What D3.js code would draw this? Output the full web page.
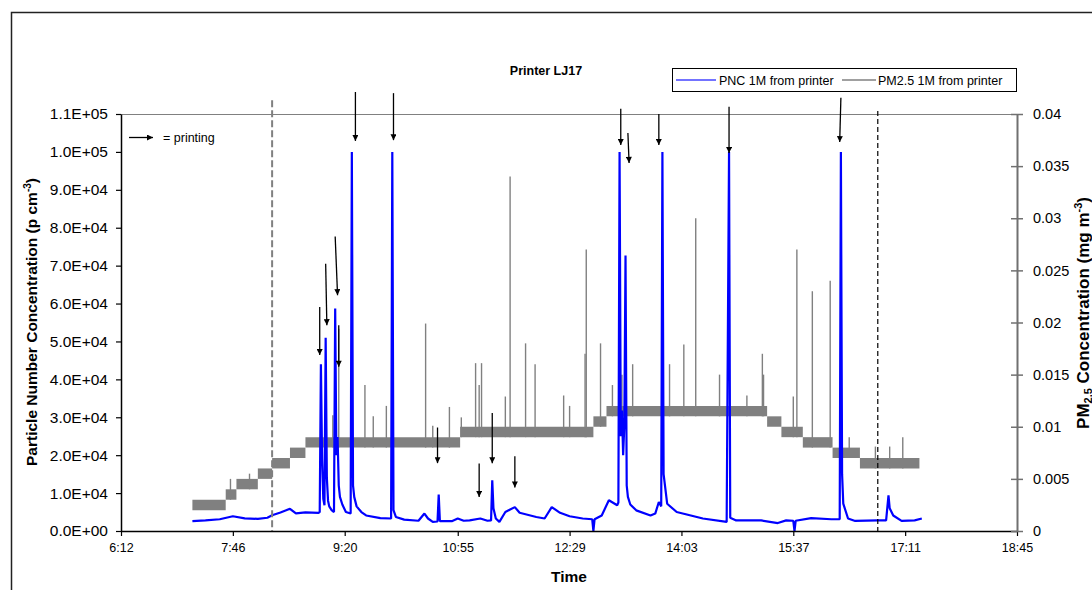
<!DOCTYPE html>
<html>
<head>
<meta charset="utf-8">
<script src="https://cdn.jsdelivr.net/npm/d3@7/dist/d3.min.js"></script>
<style>
  body { margin: 0; background: #fff; }
  svg { display: block; font-family: "Liberation Sans", Arial, sans-serif; }
</style>
</head>
<body>
<div id="chart"></div>
<script>
// axis ticks as Excel printed them
var timeTicks = ["6:12", "7:46", "9:20", "10:55", "12:29", "14:03", "15:37", "17:11", "18:45"];
var pncTicks = [0, 10000, 20000, 30000, 40000, 50000, 60000, 70000, 80000, 90000, 100000, 110000];
var pmTicks = [0, 0.005, 0.01, 0.015, 0.02, 0.025, 0.03, 0.035, 0.04];

// PNC 1M from printer (p cm-3)
var pncSeries = [
  ["7:12", 2600], ["7:23", 2800], ["7:35", 3100], ["7:46", 3900], ["7:56", 3350],
  ["8:07", 3200], ["8:15", 3500], ["8:19", 4150], ["8:26", 4900], ["8:34", 5850],
  ["8:39", 4650], ["8:47", 4900], ["8:58", 4800], ["8:59", 5000], ["9:00", 44000],
  ["9:01", 19000], ["9:02", 8500], ["9:03", 6800], ["9:04", 51000], ["9:05", 14000],
  ["9:06", 8000], ["9:07", 6500], ["9:09", 5500], ["9:11", 5000], ["9:12", 58700],
  ["9:13", 20000], ["9:14", 24800], ["9:15", 12000], ["9:16", 9000], ["9:18", 7000],
  ["9:21", 5000], ["9:25", 4600], ["9:26", 100000], ["9:27", 12000], ["9:28", 9000],
  ["9:30", 6500], ["9:34", 5000], ["9:38", 4100], ["9:50", 3400], ["9:59", 3300],
  ["10:00", 100000], ["10:01", 5500], ["10:03", 3700], ["10:10", 3000], ["10:22", 2700],
  ["10:27", 4600], ["10:30", 3300], ["10:34", 2400], ["10:38", 2500], ["10:39", 9600],
  ["10:40", 2600], ["10:50", 2600], ["10:55", 3300], ["11:00", 2700], ["11:05", 2800],
  ["11:14", 3300], ["11:20", 2700], ["11:23", 2800], ["11:24", 13400], ["11:25", 6000],
  ["11:27", 3300], ["11:30", 2400], ["11:35", 5000], ["11:39", 5650], ["11:43", 6300],
  ["11:47", 4800], ["12:01", 3700], ["12:08", 3300], ["12:14", 6300], ["12:21", 4800],
  ["12:29", 3900], ["12:40", 3300], ["12:48", 3100], ["12:49", 0], ["12:50", 3100],
  ["12:56", 4100], ["13:02", 8100], ["13:09", 6800], ["13:10", 7500], ["13:11", 100000],
  ["13:12", 25000], ["13:13", 31800], ["13:14", 20000], ["13:15", 28000], ["13:16", 72700],
  ["13:17", 12000], ["13:18", 9000], ["13:20", 7000], ["13:25", 5450], ["13:37", 4100],
  ["13:41", 4600], ["13:44", 7650], ["13:46", 6500], ["13:47", 100000], ["13:48", 15000],
  ["13:51", 7200], ["13:59", 5000], ["14:21", 3300], ["14:41", 2400], ["14:43", 100000],
  ["14:44", 3500], ["14:49", 2800], ["15:10", 2800], ["15:24", 2100], ["15:31", 2800],
  ["15:37", 2700], ["15:38", 0], ["15:39", 2700], ["15:52", 3400], ["16:09", 3100],
  ["16:16", 3100], ["16:17", 100000], ["16:18", 15000], ["16:19", 7200], ["16:23", 3300],
  ["16:29", 2650], ["16:48", 2800], ["16:55", 2800], ["16:57", 9400], ["16:58", 6000],
  ["17:01", 4100], ["17:08", 2650], ["17:19", 2800], ["17:25", 3300]
];

// PM2.5 1M from printer (mg m-3): the reading flickers between two levels -> [from, to, low, high]
var pmLevels = [
  ["7:12", "7:40", 0.002, 0.003],
  ["7:40", "7:49", 0.003, 0.004],
  ["7:49", "8:07", 0.004, 0.005],
  ["8:07", "8:19", 0.005, 0.006],
  ["8:19", "8:34", 0.006, 0.007],
  ["8:34", "8:47", 0.007, 0.008],
  ["8:47", "10:57", 0.008, 0.009],
  ["10:57", "12:49", 0.009, 0.010],
  ["12:49", "13:00", 0.010, 0.011],
  ["13:00", "15:15", 0.011, 0.012],
  ["15:15", "15:27", 0.010, 0.011],
  ["15:27", "15:45", 0.009, 0.010],
  ["15:45", "16:10", 0.008, 0.009],
  ["16:10", "16:33", 0.007, 0.008],
  ["16:33", "17:23", 0.006, 0.007]
];

// PM2.5 single minute peaks
var pmSpikes = [
  ["7:44", 0.005], ["8:00", 0.0055], ["9:10", 0.0111], ["9:12", 0.0142], ["9:15", 0.0194],
  ["9:37", 0.0140], ["9:44", 0.0110], ["9:55", 0.0120], ["10:28", 0.0199], ["10:34", 0.0101],
  ["10:48", 0.0119], ["10:58", 0.0109], ["11:10", 0.0161], ["11:13", 0.0140], ["11:15", 0.0161],
  ["11:35", 0.0129], ["11:39", 0.0340], ["11:52", 0.0180], ["12:00", 0.0160], ["12:24", 0.0130],
  ["12:29", 0.0120], ["12:42", 0.0170], ["12:43", 0.0270], ["12:55", 0.0180], ["13:05", 0.0140],
  ["13:13", 0.0150], ["13:22", 0.0160], ["13:53", 0.0160], ["14:05", 0.0179], ["14:15", 0.0300],
  ["14:35", 0.0150], ["14:58", 0.0130], ["15:11", 0.0170], ["15:12", 0.0150], ["15:37", 0.0129],
  ["15:40", 0.0270], ["15:53", 0.0230], ["16:08", 0.0240], ["16:24", 0.0090], ["16:46", 0.0081],
  ["16:58", 0.0081], ["17:09", 0.0090]
];

// "= printing" arrows: [time from, PNC from, time to, PNC to]
var printArrows = [
  ["8:59", 59100, "8:59", 46400], ["9:04", 70500, "9:05", 54300], ["9:12", 77700, "9:14", 62200],
  ["9:15", 54300, "9:15", 43300], ["9:29", 115800, "9:29", 102900], ["10:01", 115500, "10:01", 103100],
  ["10:38", 27300, "10:38", 17900], ["11:13", 17800, "11:13", 9000], ["11:24", 31100, "11:24", 17900],
  ["11:43", 19700, "11:43", 11500], ["13:12", 111400, "13:12", 101800], ["13:18", 105000, "13:19", 97100],
  ["13:44", 110000, "13:44", 101800], ["14:43", 111900, "14:43", 99700], ["16:17", 114300, "16:16", 102600]
];

// start / end of the test period: [time, top in PNC units]
var periodLines = [["8:19", 113600], ["16:48", 110800]];

var width = 1092;
var height = 590;
// plot area edges (don't call it "top": window.top is read only)
var plotLeft = 121, plotRight = 1017, plotTop = 114, plotBottom = 531;

function toMin(s) {
  var p = s.split(":");
  return +p[0] * 60 + +p[1];
}

// 1.0E+04 style labels like Excel
function sci(v) {
  if (v === 0) return "0.0E+00";
  var e = Math.floor(Math.log10(v));
  var m = v / Math.pow(10, e);
  return m.toFixed(1) + "E+" + (e < 10 ? "0" : "") + e;
}

var svg = d3.select("#chart").append("svg")
  .attr("width", width)
  .attr("height", height);

var x = d3.scaleLinear().domain([toMin(timeTicks[0]), toMin(timeTicks[timeTicks.length - 1])]).range([plotLeft, plotRight]);
var yL = d3.scaleLinear().domain([0, 110000]).range([plotBottom, plotTop]);
var yR = d3.scaleLinear().domain([0, 0.04]).range([plotBottom, plotTop]);

var defs = svg.append("defs");
defs.append("marker")
  .attr("id", "head")
  .attr("viewBox", "0 0 10 10")
  .attr("refX", 10).attr("refY", 5)
  .attr("markerWidth", 7).attr("markerHeight", 6)
  .attr("markerUnits", "userSpaceOnUse")
  .attr("orient", "auto")
  .append("path").attr("d", "M0,0L10,5L0,10z").attr("fill", "#000");

// chart frame
svg.append("rect")
  .attr("x", 11.5).attr("y", 12.5)
  .attr("width", 1100).attr("height", 600)
  .attr("fill", "none").attr("stroke", "#222").attr("stroke-width", 1.5);

// top border of plot area
svg.append("line")
  .attr("x1", plotLeft).attr("x2", plotRight).attr("y1", plotTop + 0.5).attr("y2", plotTop + 0.5)
  .attr("stroke", "#808080").attr("stroke-width", 1);

// PM2.5 band
var band = d3.area()
  .x(function(d) { return x(d[0]); })
  .y0(function(d) { return yR(d[1]); })
  .y1(function(d) { return yR(d[2]); });

svg.append("g").selectAll("path")
  .data(pmLevels)
  .enter().append("path")
  .attr("d", function(d) {
    return band([[toMin(d[0]), d[2], d[3]], [toMin(d[1]), d[2], d[3]]]);
  })
  .attr("fill", "#808080");

function levelAt(t) {
  for (var i = 0; i < pmLevels.length; i++) {
    if (t >= toMin(pmLevels[i][0]) && t <= toMin(pmLevels[i][1])) return pmLevels[i][2];
  }
  return 0;
}

svg.append("g").selectAll("line")
  .data(pmSpikes)
  .enter().append("line")
  .attr("x1", function(d) { return x(toMin(d[0])); })
  .attr("x2", function(d) { return x(toMin(d[0])); })
  .attr("y1", function(d) { return yR(levelAt(toMin(d[0]))); })
  .attr("y2", function(d) { return yR(d[1]); })
  .attr("stroke", "#808080").attr("stroke-width", 1.4);

// PNC line
var line = d3.line()
  .x(function(d) { return x(toMin(d[0])); })
  .y(function(d) { return yL(d[1]); });

svg.append("path")
  .datum(pncSeries)
  .attr("d", line)
  .attr("fill", "none")
  .attr("stroke", "#0000ff")
  .attr("stroke-width", 2.2)
  .attr("stroke-linejoin", "bevel");

// dashed period lines
svg.append("g").selectAll("line")
  .data(periodLines)
  .enter().append("line")
  .attr("x1", function(d) { return x(toMin(d[0])); })
  .attr("x2", function(d) { return x(toMin(d[0])); })
  .attr("y1", function(d) { return yL(d[1]); })
  .attr("y2", plotBottom)
  .attr("stroke", function(d, i) { return i == 0 ? "#808080" : "#000"; })
  .attr("stroke-width", function(d, i) { return i == 0 ? 2 : 1.2; })
  .attr("stroke-dasharray", function(d, i) { return i == 0 ? "7,3" : "5,3"; });

// axes
var xAxis = svg.append("g")
  .attr("transform", "translate(0," + plotBottom + ")")
  .call(d3.axisBottom(x)
    .tickValues(timeTicks.map(toMin))
    .tickFormat(function(d, i) { return timeTicks[i]; })
    .tickSize(5).tickSizeOuter(0).tickPadding(7));
xAxis.selectAll("text").attr("font-size", "12.5px").attr("fill", "#000")
  .attr("font-family", "Liberation Sans, Arial, sans-serif");

var lAxis = svg.append("g")
  .attr("transform", "translate(" + plotLeft + ",0)")
  .call(d3.axisLeft(yL).tickValues(pncTicks).tickFormat(sci)
    .tickSize(5).tickSizeOuter(0).tickPadding(8));
lAxis.selectAll("text").attr("font-size", "15.5px").attr("fill", "#000")
  .attr("font-family", "Liberation Sans, Arial, sans-serif");

var rAxis = svg.append("g")
  .attr("transform", "translate(" + plotRight + ",0)")
  .call(d3.axisRight(yR).tickValues(pmTicks).tickFormat(d3.format("~g"))
    .tickSize(6).tickSizeOuter(0).tickPadding(10));
rAxis.select(".domain").attr("stroke", "#707070").attr("stroke-width", 2);
rAxis.selectAll(".tick line").attr("x1", -6).attr("stroke", "#707070").attr("stroke-width", 1.5);
rAxis.selectAll("text").attr("font-size", "14.5px").attr("fill", "#000")
  .attr("font-family", "Liberation Sans, Arial, sans-serif");

[xAxis, lAxis].forEach(function(a) {
  a.select(".domain").attr("stroke", "#000").attr("stroke-width", 1.5);
  a.selectAll(".tick line").attr("stroke", "#000").attr("stroke-width", 1.2);
});

// printing arrows
svg.append("g").selectAll("line")
  .data(printArrows)
  .enter().append("line")
  .attr("x1", function(d) { return x(toMin(d[0])); })
  .attr("y1", function(d) { return yL(d[1]); })
  .attr("x2", function(d) { return x(toMin(d[2])); })
  .attr("y2", function(d) { return yL(d[3]); })
  .attr("stroke", "#000").attr("stroke-width", 1.3)
  .attr("marker-end", "url(#head)");

// key for the arrows
svg.append("line")
  .attr("x1", 129).attr("x2", 153).attr("y1", 137.5).attr("y2", 137.5)
  .attr("stroke", "#000").attr("stroke-width", 1.3)
  .attr("marker-end", "url(#head)");
svg.append("text")
  .attr("x", 163).attr("y", 142)
  .attr("font-size", "12.5px")
  .text("= printing");

// title
svg.append("text")
  .attr("x", 546).attr("y", 75)
  .attr("text-anchor", "middle")
  .attr("font-size", "12.5px").attr("font-weight", "bold")
  .text("Printer LJ17");

// axis titles
svg.append("text")
  .attr("x", 569).attr("y", 582)
  .attr("text-anchor", "middle")
  .attr("font-size", "15.5px").attr("font-weight", "bold")
  .text("Time");

var lt = svg.append("text")
  .attr("transform", "translate(37,322) rotate(-90)")
  .attr("text-anchor", "middle")
  .attr("font-size", "15.5px").attr("font-weight", "bold");
lt.append("tspan").text("Particle Number Concentration (p cm");
lt.append("tspan").attr("font-size", "10px").attr("dy", -6).text("-3");
lt.append("tspan").attr("dy", 6).text(")");

var rt = svg.append("text")
  .attr("transform", "translate(1089,313) rotate(-90)")
  .attr("text-anchor", "middle")
  .attr("font-size", "17px").attr("font-weight", "bold");
rt.append("tspan").text("PM");
rt.append("tspan").attr("font-size", "11px").attr("dy", 3).text("2.5");
rt.append("tspan").attr("dy", -3).text(" Concentration (mg m");
rt.append("tspan").attr("font-size", "11px").attr("dy", -7).text("-3");
rt.append("tspan").attr("dy", 7).text(")");

// legend
var lg = svg.append("g");
lg.append("rect")
  .attr("x", 672.5).attr("y", 68.5).attr("width", 344).attr("height", 23)
  .attr("fill", "#fff").attr("stroke", "#000").attr("stroke-width", 1);
lg.append("line")
  .attr("x1", 676).attr("x2", 716).attr("y1", 80).attr("y2", 80)
  .attr("stroke", "#0000ff").attr("stroke-opacity", 0.55).attr("stroke-width", 2);
lg.append("text").attr("x", 719).attr("y", 84.5).attr("font-size", "12.5px")
  .text("PNC 1M from printer");
lg.append("line")
  .attr("x1", 842).attr("x2", 876).attr("y1", 80).attr("y2", 80)
  .attr("stroke", "#808080").attr("stroke-width", 1.5);
lg.append("text").attr("x", 878).attr("y", 84.5).attr("font-size", "12.5px")
  .text("PM2.5 1M from printer");
</script>
</body>
</html>
